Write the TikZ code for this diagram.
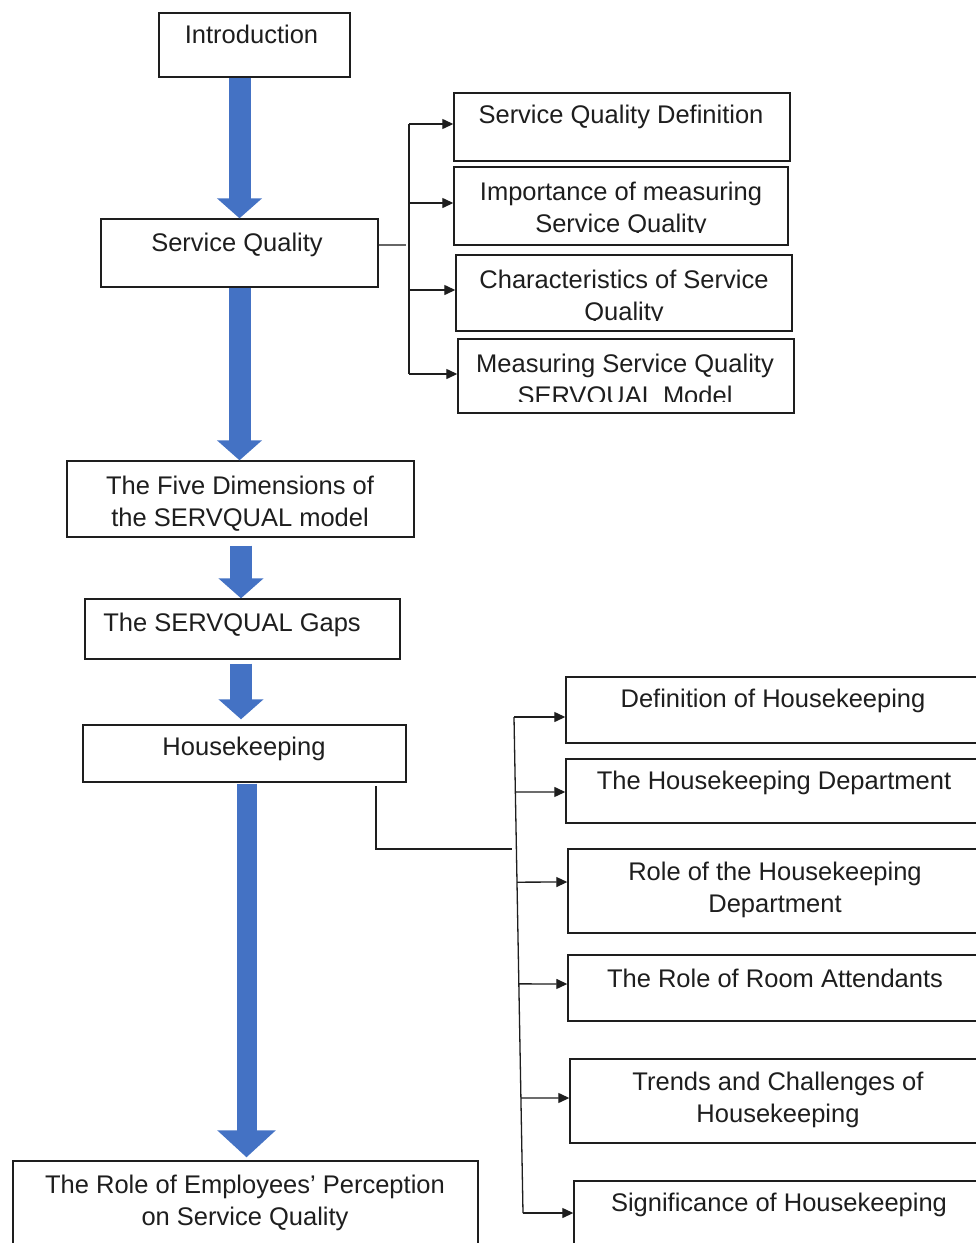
\documentclass[tikz,border=0pt]{standalone}
\usepackage{fontspec}
\setmainfont{Liberation Sans}
\usetikzlibrary{arrows.meta,calc}
\definecolor{officeblue}{HTML}{4472C4}
\definecolor{inkgray}{HTML}{1E1E1E}
\tikzset{
  box/.style={draw=inkgray,line width=1.4pt,rectangle,inner sep=0pt,fill=white},
  txt/.style={inner sep=0pt,align=center,text=inkgray,font=\fontsize{25.5}{32}\selectfont},
  one/.style={text height=0.75em,text depth=0.25em},
  conn/.style={draw=inkgray,line width=1.3pt},
  tip/.style={conn,-{Triangle[length=11pt,width=10pt]}},
  bigarrow/.style={draw=officeblue,line width=#1,-{Triangle[length=20pt,width=44pt]}},
  bigarrow/.default=22pt
}
\begin{document}
\begin{tikzpicture}[x=1pt,y=-1pt]
\clip (0,0) rectangle (976,1243);
\fill[white] (0,0) rectangle (976,1243);

% ---- left column boxes
\node[box,minimum width=191pt,minimum height=64pt] (intro) at (254.5,45) {};
\node[txt,one] (intro-t) at (251.5,41) {Introduction};

\node[box,minimum width=277pt,minimum height=68pt] (sq) at (239.5,253) {};
\node[txt,one] (sq-t) at (237,249) {Service Quality};

\node[box,minimum width=347pt,minimum height=76pt] (five) at (240.5,499) {};
\node[txt] (five-t) at (240,504) {The Five Dimensions of\\the SERVQUAL model};

\node[box,minimum width=315pt,minimum height=60pt] (gaps) at (242.5,629) {};
\node[txt,one] (gaps-t) at (232,629) {The SERVQUAL Gaps};

\node[box,minimum width=323pt,minimum height=57pt] (hk) at (244.5,753.5) {};
\node[txt,one] (hk-t) at (244,753) {Housekeeping};

\node[box,minimum width=465pt,minimum height=100pt] (role) at (245.5,1211) {};
\node[txt] (role-t) at (245,1203) {The Role of Employees' Perception\\on Service Quality};

% ---- top right boxes
\node[box,minimum width=336pt,minimum height=68pt] (sqdef) at (622,127) {};
\node[txt,one] (sqdef-t) at (621,121) {Service Quality Definition};

\node[box,minimum width=334pt,minimum height=78pt] (imp) at (621,206) {};
\begin{scope}
\clip (454,160) rectangle (788,232);
\node[txt] (imp-t) at (621,210) {Importance of measuring\\Service Quality};
\end{scope}

\node[box,minimum width=336pt,minimum height=76pt] (char) at (624,293) {};
\begin{scope}
\clip (456,250) rectangle (792,320);
\node[txt] (char-t) at (624,298) {Characteristics of Service\\Quality};
\end{scope}

\node[box,minimum width=336pt,minimum height=74pt] (meas) at (626,376) {};
\begin{scope}
\clip (458,335) rectangle (794,401);
\node[txt] (meas-t) at (625,382) {Measuring Service Quality\\SERVQUAL Model};
\end{scope}

% ---- housekeeping right boxes
\node[box,minimum width=420pt,minimum height=66pt] (hdef) at (776,710) {};
\node[txt,one] (hdef-t) at (773,705) {Definition of Housekeeping};

\node[box,minimum width=420pt,minimum height=64pt] (hdept) at (776,791) {};
\node[txt,one] (hdept-t) at (774,787) {The Housekeeping Department};

\node[box,minimum width=418pt,minimum height=84pt] (hrole) at (777,891) {};
\node[txt] (hrole-t) at (775,890) {Role of the Housekeeping\\Department};

\node[box,minimum width=418pt,minimum height=66pt] (hroom) at (777,988) {};
\node[txt,one] (hroom-t) at (775,985) {The Role of Room Attendants};

\node[box,minimum width=416pt,minimum height=84pt] (htrend) at (778,1101) {};
\node[txt] (htrend-t) at (778,1100) {Trends and Challenges of\\Housekeeping};

\node[box,minimum width=412pt,minimum height=80pt] (hsig) at (780,1221) {};
\node[txt,one] (hsig-t) at (779,1209) {Significance of Housekeeping};

% ---- blue flow arrows
\draw[bigarrow] (intro.south -| 239.5,0) -- (sq.north -| 239.5,0);
\draw[bigarrow] (sq.south -| 239.5,0) -- (five.north -| 239.5,0);
\draw[bigarrow] ($(five.south -| 241,0)+(0,8)$) -- (gaps.north -| 241,0);
\draw[bigarrow] ($(gaps.south -| 241,0)+(0,4)$) -- ($(hk.north -| 241,0)+(0,-5)$);
\draw[draw=officeblue,line width=20pt,-{Triangle[length=27pt,width=57pt]}]
  ($(hk.south -| 246.5,0)+(0,1)$) -- ($(role.north -| 246.5,0)+(0,-3)$);

% ---- top bracket
\coordinate (tb1) at (409,124);
\coordinate (tb2) at (409,374);
\coordinate (tbm) at (409,245);
\draw[conn,draw=gray!80!black] (sq.east |- tbm) -- ($(tbm)+(-3,0)$);
\draw[conn] (tb1) -- (tb2);
\draw[tip] (tb1) -- (sqdef.west |- tb1);
\draw[tip] (409,203) -- (imp.west |- 0,203);
\draw[tip] (409,290) -- (char.west |- 0,290);
\draw[tip] (tb2) -- (meas.west |- tb2);

% ---- housekeeping bracket
\coordinate (hkout) at (376,786);
\coordinate (hkjoin) at (512,849);
\draw[conn] (hkout) |- (hkjoin);
\coordinate (hb1) at (514,717);
\coordinate (hb2) at (523,1213);
\draw[conn] (hb1) -- (hb2);
\draw[tip] (hb1) -- (hdef.west |- hb1);
\draw[tip] ($(hb1)!0.151!(hb2)$) -- (hdept.west |- 0,792);
\draw[tip] ($(hb1)!0.333!(hb2)$) -- (hrole.west |- 0,882);
\draw[tip] ($(hb1)!0.538!(hb2)$) -- (hroom.west |- 0,984);
\draw[tip] ($(hb1)!0.768!(hb2)$) -- (htrend.west |- 0,1098);
\draw[tip] (hb2) -- (hsig.west |- hb2);
\end{tikzpicture}
\end{document}
